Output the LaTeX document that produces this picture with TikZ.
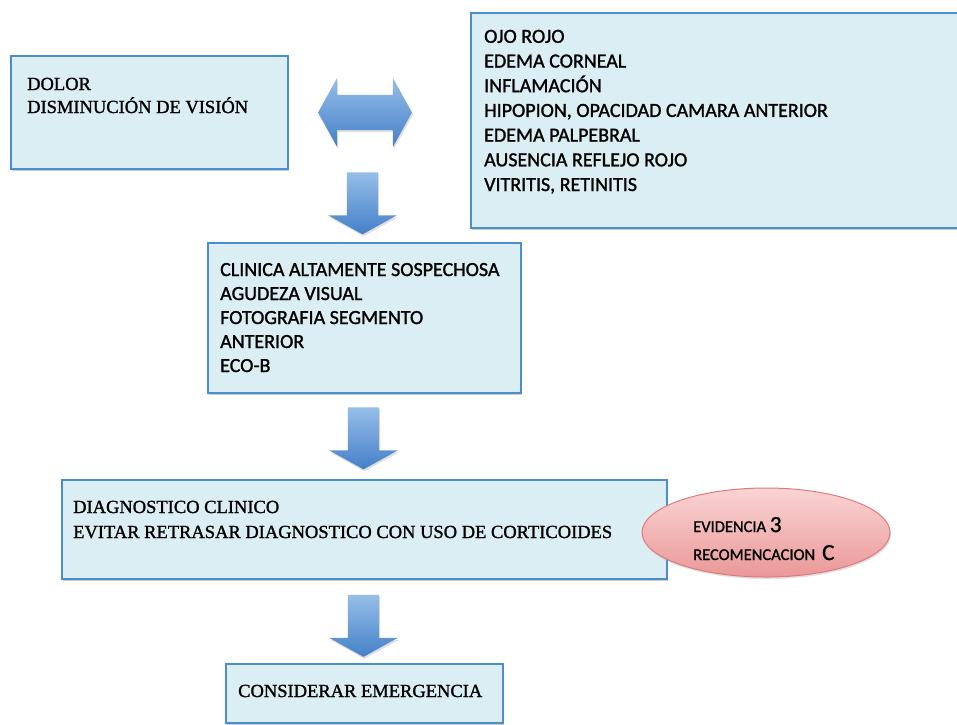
\documentclass[tikz,border=0pt]{standalone}
\usepackage{fontspec}
\setmainfont[FakeBold=1.3, AutoFakeBold=1.3]{Liberation Serif}
\newfontfamily\calibri[FakeBold=1.3, AutoFakeBold=1.3]{Carlito}
\usetikzlibrary{positioning, shapes.arrows, shapes.geometric, shadows}

\definecolor{cajafondo}{RGB}{219,238,244}
\definecolor{cajaborde}{RGB}{74,142,206}
\definecolor{flechaclara}{RGB}{150,190,232}
\definecolor{flechaoscura}{RGB}{68,128,200}
\definecolor{rosaclaro}{RGB}{250,212,212}
\definecolor{rosaoscuro}{RGB}{234,152,152}
\definecolor{rosaborde}{RGB}{224,122,122}

\begin{document}
\begin{tikzpicture}[x=1pt, y=-1pt]
    \tikzstyle{caja} = [draw=cajaborde, fill=cajafondo, line width=1.6pt, anchor=north west, inner sep=0,
        drop shadow={shadow xshift=1.5pt, shadow yshift=-2.5pt, opacity=0.4}];
    \tikzstyle{serif} = [anchor=base west, align=left, inner sep=0, font=\bfseries\fontsize{18.5}{23}\selectfont];
    \tikzstyle{sans} = [anchor=base west, align=left, inner sep=0, font=\calibri\bfseries\fontsize{20}{24.7}\selectfont];
    \tikzstyle{flecha} = [single arrow, shape border rotate=270, top color=flechaclara, bottom color=flechaoscura,
        minimum height=62pt, inner sep=15.5pt, single arrow head extend=18.5pt, single arrow tip angle=122,
        drop shadow={shadow xshift=1pt, shadow yshift=-2pt, opacity=0.25}];

    \useasboundingbox (0,0) rectangle (957,724);

    % cajas
    \node[caja, minimum width=277pt, minimum height=113pt] (dolor) at (10,55) {};
    \node[serif] (dolor-txt) at (27,113) {DOLOR\\DISMINUCIÓN DE VISIÓN};

    \node[caja, minimum width=500pt, minimum height=215pt] (signos) at (470,12) {};
    \node[sans] (signos-txt) at (484,191) {OJO ROJO\\EDEMA CORNEAL\\INFLAMACIÓN\\HIPOPION, OPACIDAD CAMARA ANTERIOR\\EDEMA PALPEBRAL\\AUSENCIA REFLEJO ROJO\\VITRITIS, RETINITIS};

    \node[caja, minimum width=313pt, minimum height=150pt] (clinica) at (207,242) {};
    \node[sans, font=\calibri\bfseries\fontsize{20}{24}\selectfont] (clinica-txt) at (220,372) {CLINICA ALTAMENTE SOSPECHOSA\\AGUDEZA VISUAL\\FOTOGRAFIA SEGMENTO\\ANTERIOR\\ECO-B};

    \node[caja, minimum width=605pt, minimum height=99pt] (diagnostico) at (61,479) {};
    \node[serif, font=\bfseries\fontsize{18.5}{25}\selectfont] (diagnostico-txt) at (73,538) {DIAGNOSTICO CLINICO\\EVITAR RETRASAR DIAGNOSTICO CON USO DE CORTICOIDES};

    \node[caja, minimum width=277pt, minimum height=59pt] (emergencia) at (225,663) {};
    \node[serif] (emergencia-txt) at (238,697) {CONSIDERAR EMERGENCIA};

    % evidencia
    \node[ellipse, draw=rosaborde, line width=1pt, top color=rosaclaro, bottom color=rosaoscuro,
        minimum width=248pt, minimum height=89pt, drop shadow={shadow xshift=1pt, shadow yshift=-2pt, opacity=0.25}] (evidencia) at (766,532.5) {};
    \node[anchor=base west, align=left, inner sep=0, font=\calibri\bfseries\fontsize{16.5}{28}\selectfont] (evidencia-txt) at (693,560)
        {EVIDENCIA {\fontsize{23}{28}\selectfont 3}\\RECOMENCACION\hspace{7pt}{\fontsize{23}{28}\selectfont C}};

    % flechas
    \node[double arrow, top color=flechaclara, bottom color=flechaoscura, minimum height=94pt, inner sep=17.5pt,
        double arrow head extend=17pt, double arrow tip angle=122,
        drop shadow={shadow xshift=1pt, shadow yshift=-2pt, opacity=0.25}] (flecha-doble) at (365,112.5) {};
    \node[flecha] (flecha1) at (362.5,199) {};
    \node[flecha] (flecha2) at (363.5,434) {};
    \node[flecha] (flecha3) at (363.5,621.5) {};
\end{tikzpicture}
\end{document}
